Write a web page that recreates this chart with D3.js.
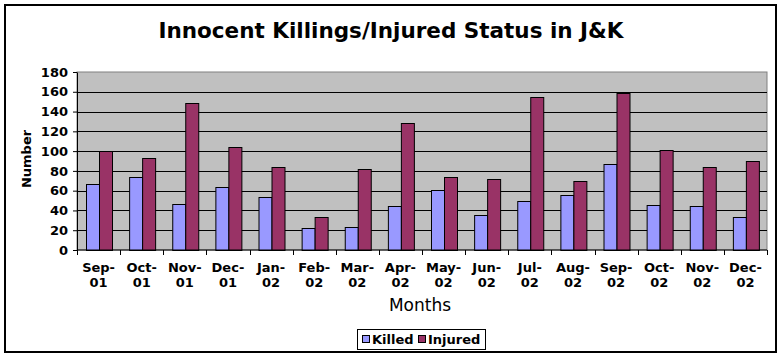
<!DOCTYPE html>
<html>
<head>
<meta charset="utf-8">
<script src="https://cdn.jsdelivr.net/npm/d3@7"></script>
<style>
  body { margin: 0; background: #fff; }
  text { font-family: "DejaVu Sans", Verdana, sans-serif; }
</style>
</head>
<body>
<svg id="chart" width="782" height="358"></svg>
<script>
const months = ["Sep-01", "Oct-01", "Nov-01", "Dec-01", "Jan-02", "Feb-02", "Mar-02", "Apr-02",
                "May-02", "Jun-02", "Jul-02", "Aug-02", "Sep-02", "Oct-02", "Nov-02", "Dec-02"];
const killed = [67, 74, 47, 64, 54, 22, 23, 45, 61, 35, 50, 56, 87, 46, 44, 33];
const injured = [100, 93, 149, 104, 84, 33, 82, 128, 74, 72, 155, 70, 159, 101, 84, 90];
const seriesNames = ["Killed", "Injured"];
const yTicks = [0, 20, 40, 60, 80, 100, 120, 140, 160, 180];

const colors = {Killed: "#9999FF", Injured: "#993366"};

const data = months.map((m, i) => ({month: m, Killed: killed[i], Injured: injured[i]}));

const svg = d3.select("#chart");
const margin = {top: 72, right: 15, bottom: 108, left: 77},
      width = 767 - margin.left,
      height = 250 - margin.top;

// outer chart border
svg.append("rect")
  .attr("x", 5).attr("y", 5).attr("width", 771).attr("height", 347)
  .attr("fill", "#fff").attr("stroke", "#000").attr("stroke-width", 2);

svg.append("text")
  .attr("x", 391).attr("y", 38)
  .attr("text-anchor", "middle")
  .attr("font-size", 21.5).attr("font-weight", "bold")
  .text("Innocent Killings/Injured Status in J&K");

const g = svg.append("g").attr("transform", `translate(${margin.left},${margin.top})`);

const x0 = d3.scaleBand().domain(months).range([0, width]).padding(0);
const bw = x0.bandwidth();
const barW = bw / 3.4;
const x1 = d3.scaleBand().domain(seriesNames)
  .range([(bw - 2 * barW) / 2, (bw + 2 * barW) / 2]).padding(0);
const y = d3.scaleLinear().domain([0, 180]).range([height, 0]);

g.append("rect")
  .attr("width", width).attr("height", height)
  .attr("fill", "#C0C0C0").attr("stroke", "#808080");

g.selectAll(".grid")
  .data(yTicks.filter(t => t > 0 && t < 180))
  .enter().append("line")
  .attr("x1", 0).attr("x2", width)
  .attr("y1", d => Math.round(y(d)) + 0.5).attr("y2", d => Math.round(y(d)) + 0.5)
  .attr("stroke", "#000");

const groups = g.selectAll(".month")
  .data(data)
  .enter().append("g")
  .attr("transform", d => `translate(${x0(d.month)},0)`);

groups.selectAll("rect")
  .data(d => seriesNames.map(s => ({s, v: d[s]})))
  .enter().append("rect")
  .attr("x", d => Math.round(x1(d.s)) + 0.5)
  .attr("y", d => Math.round(y(d.v)) + 0.5)
  .attr("width", Math.round(x1.bandwidth()))
  .attr("height", d => height - Math.round(y(d.v)))
  .attr("fill", d => colors[d.s])
  .attr("stroke", "#000");

// y axis
const yAxis = g.append("g")
  .call(d3.axisLeft(y).tickValues(yTicks).tickSize(4).tickSizeOuter(0));
yAxis.selectAll("text").attr("font-size", 13).attr("font-weight", "bold")
  .attr("fill", "#000").attr("x", -9).attr("font-family", "DejaVu Sans, Verdana, sans-serif");
yAxis.selectAll("line, path").attr("stroke", "#000");

// x axis with ticks at category boundaries
const xAxis = g.append("g").attr("transform", `translate(0,${height})`);
xAxis.append("line").attr("x1", 0).attr("x2", width).attr("stroke", "#000");
xAxis.selectAll(".tick")
  .data(months.concat(["end"]))
  .enter().append("line")
  .attr("x1", (d, i) => Math.round(i * bw) + 0.5)
  .attr("x2", (d, i) => Math.round(i * bw) + 0.5)
  .attr("y1", 0).attr("y2", 5)
  .attr("stroke", "#000");

const labels = xAxis.selectAll(".lbl")
  .data(months)
  .enter().append("text")
  .attr("text-anchor", "middle")
  .attr("font-size", 13).attr("font-weight", "bold")
  .attr("transform", d => `translate(${x0(d) + bw / 2},0)`);
labels.append("tspan").attr("x", 0).attr("y", 22).text(d => d.split("-")[0] + "-");
labels.append("tspan").attr("x", 0).attr("y", 37).text(d => d.split("-")[1]);

svg.append("text")
  .attr("x", 420).attr("y", 311)
  .attr("text-anchor", "middle").attr("font-size", 17)
  .text("Months");

svg.append("text")
  .attr("transform", "translate(31,159) rotate(-90)")
  .attr("text-anchor", "middle").attr("font-size", 13).attr("font-weight", "bold")
  .text("Number");

// legend
const legend = svg.append("g").attr("transform", "translate(357,329)");
legend.append("rect").attr("x", 0.5).attr("y", 0.5).attr("width", 128).attr("height", 20)
  .attr("fill", "#fff").attr("stroke", "#000");
const items = [{s: "Killed", x: 5}, {s: "Injured", x: 61}];
items.forEach(it => {
  legend.append("rect").attr("x", it.x + 0.5).attr("y", 6.5).attr("width", 7).attr("height", 7)
    .attr("fill", colors[it.s]).attr("stroke", "#000");
  legend.append("text").attr("x", it.x + 10).attr("y", 15)
    .attr("font-size", 13).attr("font-weight", "bold").text(it.s);
});
</script>
</body>
</html>
